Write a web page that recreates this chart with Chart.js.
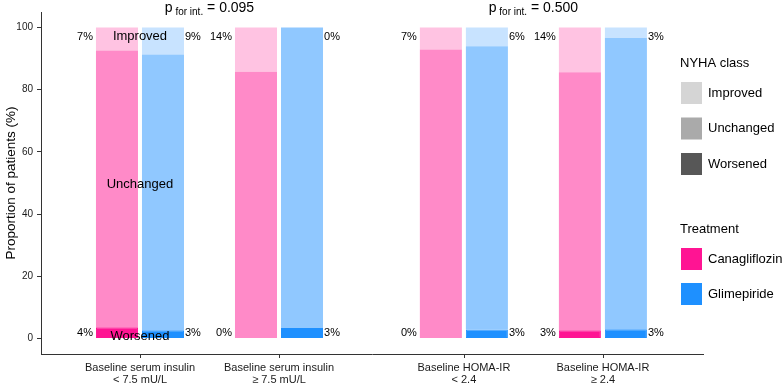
<!DOCTYPE html>
<html>
<head>
<meta charset="utf-8">
<script src="https://cdn.jsdelivr.net/npm/chart.js@4/dist/chart.umd.min.js"></script>
<style>
  html, body { margin: 0; padding: 0; background: #fff; }
  canvas { display: block; }
</style>
</head>
<body>
<canvas id="chart" width="784" height="385"></canvas>
<script>
// subgroup categories (two-line tick labels)
const groups = [
    ["Baseline serum insulin", "< 7.5 mU/L"],
    ["Baseline serum insulin", "\u2265 7.5 mU/L"],
    ["Baseline HOMA-IR", "< 2.4"],
    ["Baseline HOMA-IR", "\u2265 2.4"]
];
const treatments = ["Canagliflozin", "Glimepiride"];
const nyhaClasses = ["Improved", "Unchanged", "Worsened"];
const pValues = ["0.095", "0.500"];

// proportions (%) per subgroup
const canaWorsened = [3.6, 0, 0, 2.6];
const canaUnchanged = [89.0, 85.8, 92.9, 83.0];
const canaImproved = [7.4, 14.2, 7.1, 14.4];
const glimWorsened = [2.6, 3.4, 2.9, 3.0];
const glimUnchanged = [88.7, 96.6, 91.1, 93.6];
const glimImproved = [8.7, 0, 6.0, 3.4];

const yTicks = [0, 20, 40, 60, 80, 100];

// x position of each subgroup (gap between the two pairs)
const groupPos = [1, 2, 3.33, 4.33];

const colors = {
    cana: { Worsened: "#ff1493", Unchanged: "#ff8ac8", Improved: "#ffc3e2" },
    glim: { Worsened: "#1e90ff", Unchanged: "#90c8ff", Improved: "#c8e3ff" }
};
const legendGrey = { Improved: "#d5d5d5", Unchanged: "#aaaaaa", Worsened: "#575757" };
const FONT = "'Liberation Sans', Arial, Helvetica, sans-serif";

const toPoints = (arr) => arr.map((y, i) => ({ x: groupPos[i], y }));

const makeSet = (label, arr, stack, color, worse) => ({
    label,
    data: toPoints(arr),
    stack,
    backgroundColor: color,
    borderColor: color,
    borderWidth: worse ? 1 : 0,
    borderRadius: worse ? 2 : 0,
    borderSkipped: worse ? false : "start",
    categoryPercentage: 0.662,
    barPercentage: 0.913
});

const datasets = [
    makeSet("Canagliflozin Worsened", canaWorsened, "cana", colors.cana.Worsened, true),
    makeSet("Canagliflozin Unchanged", canaUnchanged, "cana", colors.cana.Unchanged),
    makeSet("Canagliflozin Improved", canaImproved, "cana", colors.cana.Improved),
    makeSet("Glimepiride Worsened", glimWorsened, "glim", colors.glim.Worsened, true),
    makeSet("Glimepiride Unchanged", glimUnchanged, "glim", colors.glim.Unchanged),
    makeSet("Glimepiride Improved", glimImproved, "glim", colors.glim.Improved)
];

const pct = (v) => Math.round(v) + "%";

const annotations = {
    id: "annotations",
    afterDraw(chart) {
        const { ctx, scales: { x, y } } = chart;
        ctx.save();

        // x tick marks at each subgroup
        ctx.strokeStyle = "#333";
        ctx.lineWidth = 1;
        groupPos.forEach((g) => {
            const px = Math.round(x.getPixelForValue(g)) + 0.5;
            ctx.beginPath();
            ctx.moveTo(px, x.top);
            ctx.lineTo(px, x.top + 4);
            ctx.stroke();
        });

        ctx.fillStyle = "#000";
        ctx.textBaseline = "middle";
        ctx.font = "11px " + FONT;

        const canaMeta = chart.getDatasetMeta(1);
        const glimMeta = chart.getDatasetMeta(4);
        const topY = y.getPixelForValue(97);
        const botY = y.getPixelForValue(1.7);
        groupPos.forEach((g, i) => {
            const cb = canaMeta.data[i];
            const gb = glimMeta.data[i];
            ctx.textAlign = "right";
            const cl = cb.x - cb.width / 2 - 3;
            ctx.fillText(pct(canaImproved[i]), cl, topY);
            ctx.fillText(pct(canaWorsened[i]), cl, botY);
            ctx.textAlign = "left";
            const gr = gb.x + gb.width / 2 + 1;
            ctx.fillText(pct(glimImproved[i]), gr, topY);
            ctx.fillText(pct(glimWorsened[i]), gr, botY);
        });

        // class names inside first subgroup
        ctx.font = "13px " + FONT;
        ctx.textAlign = "center";
        const cx = x.getPixelForValue(groupPos[0]);
        ctx.fillText(nyhaClasses[0], cx, y.getPixelForValue(97));
        ctx.fillText(nyhaClasses[1], cx, y.getPixelForValue(49.7));
        ctx.fillText(nyhaClasses[2], cx, y.getPixelForValue(0.7));

        // p for interaction titles
        pValues.forEach((p, k) => {
            const mid = (x.getPixelForValue(groupPos[2 * k]) + x.getPixelForValue(groupPos[2 * k + 1])) / 2;
            const base = 12;
            ctx.textBaseline = "alphabetic";
            ctx.font = "14px " + FONT;
            const wP = ctx.measureText("p").width;
            const wR = ctx.measureText(" = " + p).width;
            ctx.font = "10px " + FONT;
            const wS = ctx.measureText(" for int.").width;
            let sx = mid - (wP + wS + wR) / 2;
            ctx.textAlign = "left";
            ctx.font = "14px " + FONT;
            ctx.fillText("p", sx, base);
            ctx.font = "10px " + FONT;
            ctx.fillText(" for int.", sx + wP, base + 3);
            ctx.font = "14px " + FONT;
            ctx.fillText(" = " + p, sx + wP + wS, base);
        });

        // legends
        ctx.textBaseline = "middle";
        ctx.textAlign = "left";
        ctx.font = "13px " + FONT;
        const lx = 681;
        ctx.fillText("NYHA class", 680, 63);
        nyhaClasses.forEach((c, i) => {
            const cy = 93 + i * 35.5;
            ctx.fillStyle = legendGrey[c];
            ctx.fillRect(lx, cy - 11, 21, 22);
            ctx.fillStyle = "#000";
            ctx.fillText(c, 708, cy);
        });
        ctx.fillText("Treatment", 680, 229);
        treatments.forEach((t, i) => {
            const cy = 259 + i * 35;
            ctx.fillStyle = i === 0 ? colors.cana.Worsened : colors.glim.Worsened;
            ctx.fillRect(lx, cy - 11, 21, 22);
            ctx.fillStyle = "#000";
            ctx.fillText(t, 708, cy);
        });
        ctx.restore();
    }
};

new Chart(document.getElementById("chart"), {
    type: "bar",
    data: { datasets },
    options: {
        responsive: false,
        animation: false,
        layout: { padding: { top: 12, right: 81, left: 0, bottom: 0 } },
        plugins: {
            legend: { display: false },
            tooltip: { enabled: false }
        },
        scales: {
            x: {
                type: "linear",
                offset: false,
                min: 0.288,
                max: 5.05,
                afterBuildTicks: (s) => { s.ticks = groupPos.map((v) => ({ value: v })); },
                afterFit: (s) => { s.height = 31; },
                grid: { display: false, tickLength: 4 },
                border: { display: true, color: "#333", width: 1 },
                ticks: {
                    autoSkip: false,
                    maxRotation: 0,
                    padding: 4,
                    color: "#1a1a1a",
                    font: { family: FONT, size: 11, lineHeight: 1.1 },
                    callback: (v, i) => groups[i]
                }
            },
            y: {
                stacked: true,
                min: -5,
                max: 105,
                afterBuildTicks: (s) => { s.ticks = yTicks.map((v) => ({ value: v })); },
                afterFit: (s) => { s.width = 41; },
                grid: { drawOnChartArea: false, tickLength: 4, color: "#333", tickWidth: 1 },
                border: { display: true, color: "#333", width: 1 },
                ticks: {
                    padding: 4,
                    color: "#1a1a1a",
                    font: { family: FONT, size: 10 }
                },
                title: {
                    display: true,
                    text: "Proportion of patients (%)",
                    color: "#000",
                    padding: { top: 3, bottom: 0 },
                    font: { family: FONT, size: 13.5 }
                }
            }
        }
    },
    plugins: [annotations]
});
</script>
</body>
</html>
